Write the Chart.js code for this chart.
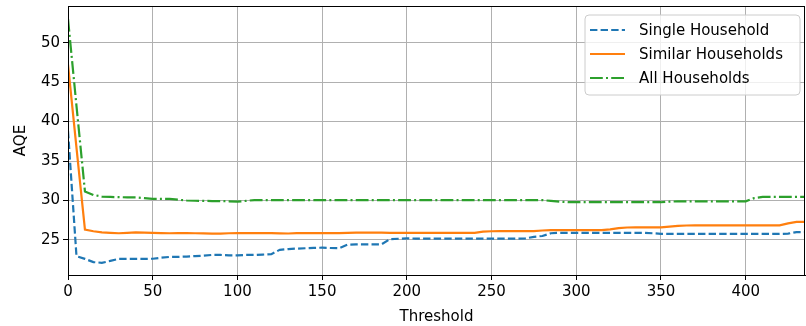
<!DOCTYPE html>
<html>
<head>
<meta charset="utf-8">
<script src="https://cdn.jsdelivr.net/npm/chart.js"></script>
<style>
  html, body { margin: 0; padding: 0; background: #fff; }
  #wrap { width: 806px; height: 326px; }
</style>
</head>
<body>
<div id="wrap"><canvas id="chart"></canvas></div>
<script>
// thresholds, step 5
const thresholds = [];
for (let t = 0; t <= 435; t += 5) thresholds.push(t);

const singleHousehold = [
  38.8, 22.95, 22.6, 22.2, 22.1, 22.35, 22.6, 22.6, 22.6, 22.6,
  22.62, 22.75, 22.85, 22.85, 22.9, 22.95, 23.0, 23.1, 23.1, 23.05,
  23.05, 23.1, 23.1, 23.15, 23.2, 23.75, 23.85, 23.9, 23.95, 24.0,
  24.02, 23.98, 23.95, 24.4, 24.45, 24.45, 24.45, 24.45, 25.1, 25.15,
  25.2, 25.18, 25.18, 25.17, 25.17, 25.17, 25.17, 25.16, 25.16, 25.16,
  25.16, 25.16, 25.16, 25.16, 25.2, 25.4, 25.5, 25.85, 25.9, 25.9,
  25.9, 25.9, 25.9, 25.9, 25.9, 25.9, 25.9, 25.9, 25.9, 25.85,
  25.78, 25.76, 25.76, 25.76, 25.76, 25.76, 25.76, 25.76, 25.76, 25.76,
  25.76, 25.76, 25.76, 25.76, 25.76, 25.8, 26.0, 26.0
];

const similarHouseholds = [
  47.2, 36.7, 26.3, 26.1, 25.97, 25.9, 25.85, 25.9, 25.95, 25.92,
  25.9, 25.87, 25.85, 25.86, 25.87, 25.85, 25.83, 25.8, 25.8, 25.85,
  25.88, 25.87, 25.87, 25.87, 25.87, 25.84, 25.82, 25.86, 25.86, 25.86,
  25.86, 25.86, 25.86, 25.9, 25.93, 25.93, 25.93, 25.93, 25.9, 25.9,
  25.9, 25.9, 25.9, 25.9, 25.9, 25.9, 25.9, 25.9, 25.9, 26.05,
  26.1, 26.12, 26.12, 26.12, 26.12, 26.12, 26.2, 26.25, 26.25, 26.25,
  26.25, 26.25, 26.25, 26.25, 26.35, 26.5, 26.58, 26.6, 26.6, 26.6,
  26.6, 26.7, 26.78, 26.83, 26.85, 26.85, 26.85, 26.85, 26.85, 26.85,
  26.85, 26.85, 26.85, 26.85, 26.85, 27.1, 27.28, 27.28
];

const allHouseholds = [
  53.0, 42.0, 31.15, 30.7, 30.5, 30.45, 30.42, 30.4, 30.4, 30.3,
  30.2, 30.2, 30.2, 30.1, 30.0, 29.97, 29.95, 29.93, 29.92, 29.9,
  29.85, 29.95, 30.05, 30.05, 30.05, 30.05, 30.05, 30.05, 30.05, 30.05,
  30.05, 30.05, 30.05, 30.05, 30.05, 30.05, 30.05, 30.05, 30.05, 30.05,
  30.05, 30.05, 30.05, 30.05, 30.05, 30.05, 30.05, 30.05, 30.05, 30.05,
  30.05, 30.05, 30.05, 30.05, 30.05, 30.05, 30.05, 29.95, 29.85, 29.8,
  29.8, 29.8, 29.8, 29.8, 29.8, 29.8, 29.8, 29.8, 29.8, 29.8,
  29.78, 29.85, 29.9, 29.9, 29.9, 29.9, 29.9, 29.9, 29.9, 29.9,
  29.9, 30.3, 30.45, 30.45, 30.45, 30.45, 30.45, 30.45
];

const seriesNames = ["Single Household", "Similar Households", "All Households"];
const xTicks = [0, 50, 100, 150, 200, 250, 300, 350, 400];
const yTicks = [25, 30, 35, 40, 45, 50];

const FONT = "'DejaVu Sans', sans-serif";
Chart.defaults.font.family = FONT;
Chart.defaults.font.size = 15;
Chart.defaults.color = "#000";

const toPoints = vals => vals.map((v, i) => ({ x: thresholds[i], y: v }));

const styles = [
  { color: "#1f77b4", dash: [7.4, 3.2] },
  { color: "#ff7f0e", dash: [] },
  { color: "#2ca02c", dash: [12.8, 3.2, 2, 3.2] }
];

const datasets = [singleHousehold, similarHouseholds, allHouseholds].map((vals, i) => ({
  label: seriesNames[i],
  data: toPoints(vals),
  borderColor: styles[i].color,
  borderDash: styles[i].dash,
  borderWidth: 2.2,
  pointRadius: 0,
  tension: 0,
  fill: false
}));

// top/right spines + legend box inside plot
const framePlugin = {
  id: "frame",
  afterDatasetsDraw(chart) {
    const { ctx, chartArea: a } = chart;
    ctx.save();
    ctx.strokeStyle = "#000";
    ctx.lineWidth = 1;
    ctx.strokeRect(Math.round(a.left) + 0.5, Math.round(a.top) + 0.5,
      Math.round(a.right - a.left) - 1, Math.round(a.bottom - a.top));

    // legend
    const bx = 585, by = 15, bw = 215, bh = 80, r = 4;
    ctx.beginPath();
    ctx.moveTo(bx + r, by);
    ctx.arcTo(bx + bw, by, bx + bw, by + bh, r);
    ctx.arcTo(bx + bw, by + bh, bx, by + bh, r);
    ctx.arcTo(bx, by + bh, bx, by, r);
    ctx.arcTo(bx, by, bx + bw, by, r);
    ctx.closePath();
    ctx.fillStyle = "rgba(255,255,255,0.8)";
    ctx.fill();
    ctx.strokeStyle = "#cccccc";
    ctx.stroke();

    ctx.font = "15px " + FONT;
    ctx.textBaseline = "middle";
    seriesNames.forEach((name, i) => {
      const y = by + 15 + i * 24;
      ctx.beginPath();
      ctx.setLineDash(styles[i].dash);
      ctx.strokeStyle = styles[i].color;
      ctx.lineWidth = 2.2;
      ctx.moveTo(590, y);
      ctx.lineTo(625, y);
      ctx.stroke();
      ctx.setLineDash([]);
      ctx.fillStyle = "#000";
      ctx.fillText(name, 639, y + 1);
    });
    ctx.restore();
  }
};

new Chart(document.getElementById("chart"), {
  type: "line",
  data: { datasets },
  plugins: [framePlugin],
  options: {
    responsive: true,
    maintainAspectRatio: false,
    animation: false,
    layout: { padding: { left: 0, right: 1, top: 6, bottom: 0 } },
    plugins: { legend: { display: false }, tooltip: { enabled: false } },
    scales: {
      x: {
        type: "linear",
        min: 0,
        max: 435,
        afterBuildTicks: s => { s.ticks = xTicks.map(v => ({ value: v })); },
        afterFit: s => { s.height = 51; s.paddingLeft = 0; s.paddingRight = 0; },
        ticks: { padding: 3, maxRotation: 0, font: { size: 15 } },
        grid: { color: "#b0b0b0", lineWidth: 1, tickColor: "#000", tickLength: 5 },
        border: { color: "#000", width: 1 },
        title: { display: true, text: "Threshold", font: { size: 15 }, padding: { top: 3, bottom: 0 } }
      },
      y: {
        type: "linear",
        min: 20.56,
        max: 54.64,
        afterBuildTicks: s => { s.ticks = yTicks.map(v => ({ value: v })); },
        afterFit: s => { s.width = 68; s.paddingTop = 0; s.paddingBottom = 0; },
        ticks: { padding: 3, font: { size: 15 } },
        grid: { color: "#b0b0b0", lineWidth: 1, tickColor: "#000", tickLength: 5 },
        border: { color: "#000", width: 1 },
        title: { display: true, text: "AQE", font: { size: 15 }, padding: { top: 12, bottom: 0 } }
      }
    }
  }
});
</script>
</body>
</html>
